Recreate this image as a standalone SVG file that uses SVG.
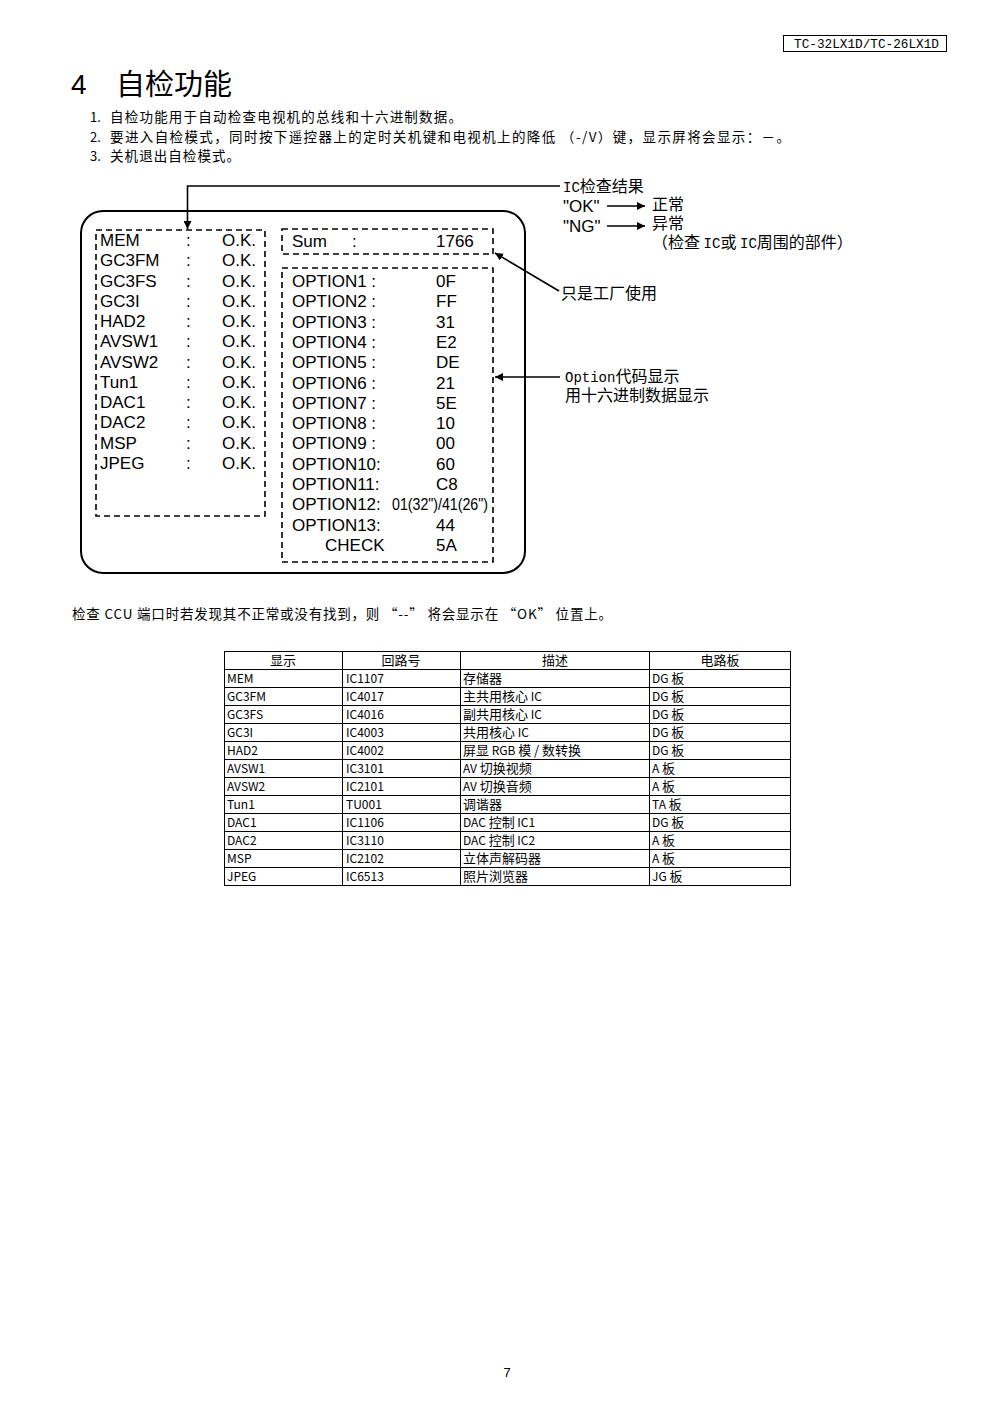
<svg xmlns="http://www.w3.org/2000/svg" width="993" height="1404" viewBox="0 0 993 1404">
<style>
.cjk{font-family:"Noto Sans CJK SC","Noto Sans",sans-serif;fill:#000}
.mono{font-family:"Liberation Mono","Noto Sans CJK SC",monospace;fill:#000}
.scr{font-family:"Liberation Sans",Arial,sans-serif;font-size:17px;fill:#000}
.dash{fill:none;stroke:#000;stroke-width:1.6;stroke-dasharray:6 4}
.ln{fill:none;stroke:#000;stroke-width:1.6}
.tb{fill:none;stroke:#000;stroke-width:1}
.tbt{font-family:"Noto Sans CJK SC","Noto Sans",sans-serif;font-size:12px;fill:#000}
.th{font-family:"Noto Sans CJK SC",sans-serif;font-size:13px;fill:#000;text-anchor:middle}
.cl{font-family:"Noto Sans CJK SC",sans-serif;font-size:16px;fill:#000}
.lat{font-family:"Liberation Mono",monospace;font-size:14px}
.c13{font-size:13px}
</style>
<defs>
<marker id="ah" viewBox="0 0 10 10" refX="10" refY="5" markerWidth="8" markerHeight="8" markerUnits="userSpaceOnUse" orient="auto">
<path d="M0,0 L10,5 L0,10 z" fill="#000"/>
</marker>
<marker id="ah2" viewBox="0 0 10 10" refX="10" refY="5" markerWidth="11" markerHeight="8" markerUnits="userSpaceOnUse" orient="auto">
<path d="M0,0 L10,5 L0,10 z" fill="#000"/>
</marker>
</defs>
<rect width="993" height="1404" fill="#fff"/>

<g id="header">
<rect x="783.5" y="35.5" width="163" height="16" fill="none" stroke="#000" stroke-width="1"/>
<text x="794" y="48" class="mono" font-size="13" textLength="145" lengthAdjust="spacingAndGlyphs">TC-32LX1D/TC-26LX1D</text>
</g>

<g id="title">
<text x="71" y="94" font-family="Liberation Sans,sans-serif" font-size="28" fill="#000">4</text>
<text x="116" y="95" class="cjk" font-size="29" textLength="116">自检功能</text>
</g>

<g id="intro">
<text x="90" y="122" class="cjk" font-size="13">1.</text>
<text x="110" y="122" class="cjk" font-size="13.5" textLength="352">自检功能用于自动检查电视机的总线和十六进制数据。</text>
<text x="90" y="142" class="cjk" font-size="13">2.</text>
<text x="110" y="142" class="cjk" font-size="13.5" textLength="680">要进入自检模式，同时按下遥控器上的定时关机键和电视机上的降低 （-/V）键，显示屏将会显示：－。</text>
<text x="90" y="161" class="cjk" font-size="13">3.</text>
<text x="110" y="161" class="cjk" font-size="13.5" textLength="130">关机退出自检模式。</text>
</g>

<g id="screen">
<rect x="81" y="211" width="444" height="362" rx="22" ry="22" fill="none" stroke="#000" stroke-width="2"/>
</g>

<g id="ic-box">
<rect x="96" y="230" width="169" height="286" class="dash"/>
<g class="scr">
<text x="100" y="246">MEM</text><text x="186" y="246">:</text><text x="222" y="246">O.K.</text>
<text x="100" y="266.3">GC3FM</text><text x="186" y="266.3">:</text><text x="222" y="266.3">O.K.</text>
<text x="100" y="286.5">GC3FS</text><text x="186" y="286.5">:</text><text x="222" y="286.5">O.K.</text>
<text x="100" y="306.8">GC3I</text><text x="186" y="306.8">:</text><text x="222" y="306.8">O.K.</text>
<text x="100" y="327.1">HAD2</text><text x="186" y="327.1">:</text><text x="222" y="327.1">O.K.</text>
<text x="100" y="347.4">AVSW1</text><text x="186" y="347.4">:</text><text x="222" y="347.4">O.K.</text>
<text x="100" y="367.6">AVSW2</text><text x="186" y="367.6">:</text><text x="222" y="367.6">O.K.</text>
<text x="100" y="387.9">Tun1</text><text x="186" y="387.9">:</text><text x="222" y="387.9">O.K.</text>
<text x="100" y="408.2">DAC1</text><text x="186" y="408.2">:</text><text x="222" y="408.2">O.K.</text>
<text x="100" y="428.4">DAC2</text><text x="186" y="428.4">:</text><text x="222" y="428.4">O.K.</text>
<text x="100" y="448.7">MSP</text><text x="186" y="448.7">:</text><text x="222" y="448.7">O.K.</text>
<text x="100" y="469">JPEG</text><text x="186" y="469">:</text><text x="222" y="469">O.K.</text>
</g>
</g>

<g id="sum-box">
<rect x="282" y="229" width="211" height="25" class="dash"/>
<g class="scr">
<text x="292" y="247">Sum</text><text x="352" y="247">:</text><text x="436" y="247">1766</text>
</g>
</g>

<g id="option-box">
<rect x="282" y="268" width="211" height="294" class="dash"/>
<g class="scr">
<text x="292" y="287">OPTION1 :</text><text x="436" y="287">0F</text>
<text x="292" y="307.3">OPTION2 :</text><text x="436" y="307.3">FF</text>
<text x="292" y="327.6">OPTION3 :</text><text x="436" y="327.6">31</text>
<text x="292" y="347.9">OPTION4 :</text><text x="436" y="347.9">E2</text>
<text x="292" y="368.2">OPTION5 :</text><text x="436" y="368.2">DE</text>
<text x="292" y="388.5">OPTION6 :</text><text x="436" y="388.5">21</text>
<text x="292" y="408.8">OPTION7 :</text><text x="436" y="408.8">5E</text>
<text x="292" y="429.1">OPTION8 :</text><text x="436" y="429.1">10</text>
<text x="292" y="449.4">OPTION9 :</text><text x="436" y="449.4">00</text>
<text x="292" y="469.7">OPTION10:</text><text x="436" y="469.7">60</text>
<text x="292" y="490">OPTION11:</text><text x="436" y="490">C8</text>
<text x="292" y="510.3">OPTION12:</text><text x="392" y="510.3" font-size="16" textLength="96" lengthAdjust="spacingAndGlyphs">01(32")/41(26")</text>
<text x="292" y="530.6">OPTION13:</text><text x="436" y="530.6">44</text>
<text x="325" y="550.9">CHECK</text><text x="436" y="550.9">5A</text>
</g>
</g>

<g id="connectors">
<polyline points="560,186 187.5,186 187.5,229" class="ln" marker-end="url(#ah)"/>
<line x1="607" y1="206" x2="645" y2="206" class="ln" marker-end="url(#ah2)"/>
<line x1="607" y1="226" x2="645" y2="226" class="ln" marker-end="url(#ah2)"/>
<line x1="559" y1="291" x2="495" y2="253" class="ln" marker-end="url(#ah)"/>
<line x1="560" y1="377" x2="495" y2="377" class="ln" marker-end="url(#ah)"/>
</g>

<g id="callout-ic">
<text x="563" y="192" class="cl"><tspan class="lat">IC</tspan>检查结果</text>
<text x="563" y="212" class="scr">"OK"</text>
<text x="652" y="210" class="cl">正常</text>
<text x="563" y="232" class="scr">"NG"</text>
<text x="652" y="229" class="cl">异常</text>
<text x="652" y="248" class="cl">（检查 <tspan class="lat">IC</tspan>或 <tspan class="lat">IC</tspan>周围的部件）</text>
</g>

<g id="callout-factory">
<text x="561" y="299" class="cl">只是工厂使用</text>
</g>

<g id="callout-option">
<text x="565" y="382" class="cl"><tspan class="lat">Option</tspan>代码显示</text>
<text x="565" y="401" class="cl">用十六进制数据显示</text>
</g>

<g id="note">
<text x="72" y="619" class="cjk" font-size="13.5" textLength="540">检查 CCU 端口时若发现其不正常或没有找到，则 “--” 将会显示在 “OK” 位置上。</text>
</g>

<g id="table">
<rect x="224.5" y="651.5" width="566" height="234" class="tb"/>
<g class="tb">
<line x1="342.5" y1="651.5" x2="342.5" y2="885.5"/>
<line x1="460.5" y1="651.5" x2="460.5" y2="885.5"/>
<line x1="649.5" y1="651.5" x2="649.5" y2="885.5"/>
<line x1="224.5" y1="669.5" x2="790.5" y2="669.5"/>
<line x1="224.5" y1="687.5" x2="790.5" y2="687.5"/>
<line x1="224.5" y1="705.5" x2="790.5" y2="705.5"/>
<line x1="224.5" y1="723.5" x2="790.5" y2="723.5"/>
<line x1="224.5" y1="741.5" x2="790.5" y2="741.5"/>
<line x1="224.5" y1="759.5" x2="790.5" y2="759.5"/>
<line x1="224.5" y1="777.5" x2="790.5" y2="777.5"/>
<line x1="224.5" y1="795.5" x2="790.5" y2="795.5"/>
<line x1="224.5" y1="813.5" x2="790.5" y2="813.5"/>
<line x1="224.5" y1="831.5" x2="790.5" y2="831.5"/>
<line x1="224.5" y1="849.5" x2="790.5" y2="849.5"/>
<line x1="224.5" y1="867.5" x2="790.5" y2="867.5"/>
</g>
<text x="283" y="665" class="th">显示</text>
<text x="401" y="665" class="th">回路号</text>
<text x="555" y="665" class="th">描述</text>
<text x="720" y="665" class="th">电路板</text>
<g class="tbt">
<text x="227" y="683">MEM</text><text x="346" y="683">IC1107</text><text x="463" y="683"><tspan class="c13">存储器</tspan></text><text x="652" y="683">DG <tspan class="c13">板</tspan></text>
<text x="227" y="701">GC3FM</text><text x="346" y="701">IC4017</text><text x="463" y="701"><tspan class="c13">主共用核心</tspan> IC</text><text x="652" y="701">DG <tspan class="c13">板</tspan></text>
<text x="227" y="719">GC3FS</text><text x="346" y="719">IC4016</text><text x="463" y="719"><tspan class="c13">副共用核心</tspan> IC</text><text x="652" y="719">DG <tspan class="c13">板</tspan></text>
<text x="227" y="737">GC3I</text><text x="346" y="737">IC4003</text><text x="463" y="737"><tspan class="c13">共用核心</tspan> IC</text><text x="652" y="737">DG <tspan class="c13">板</tspan></text>
<text x="227" y="755">HAD2</text><text x="346" y="755">IC4002</text><text x="463" y="755"><tspan class="c13">屏显</tspan> RGB <tspan class="c13">模 / 数转换</tspan></text><text x="652" y="755">DG <tspan class="c13">板</tspan></text>
<text x="227" y="773">AVSW1</text><text x="346" y="773">IC3101</text><text x="463" y="773">AV <tspan class="c13">切换视频</tspan></text><text x="652" y="773">A <tspan class="c13">板</tspan></text>
<text x="227" y="791">AVSW2</text><text x="346" y="791">IC2101</text><text x="463" y="791">AV <tspan class="c13">切换音频</tspan></text><text x="652" y="791">A <tspan class="c13">板</tspan></text>
<text x="227" y="809">Tun1</text><text x="346" y="809">TU001</text><text x="463" y="809"><tspan class="c13">调谐器</tspan></text><text x="652" y="809">TA <tspan class="c13">板</tspan></text>
<text x="227" y="827">DAC1</text><text x="346" y="827">IC1106</text><text x="463" y="827">DAC <tspan class="c13">控制</tspan> IC1</text><text x="652" y="827">DG <tspan class="c13">板</tspan></text>
<text x="227" y="845">DAC2</text><text x="346" y="845">IC3110</text><text x="463" y="845">DAC <tspan class="c13">控制</tspan> IC2</text><text x="652" y="845">A <tspan class="c13">板</tspan></text>
<text x="227" y="863">MSP</text><text x="346" y="863">IC2102</text><text x="463" y="863"><tspan class="c13">立体声解码器</tspan></text><text x="652" y="863">A <tspan class="c13">板</tspan></text>
<text x="227" y="881">JPEG</text><text x="346" y="881">IC6513</text><text x="463" y="881"><tspan class="c13">照片浏览器</tspan></text><text x="652" y="881">JG <tspan class="c13">板</tspan></text>
</g>
</g>

<g id="footer">
<text x="507" y="1377" font-family="Liberation Sans,sans-serif" font-size="13" text-anchor="middle" fill="#000">7</text>
</g>
</svg>
